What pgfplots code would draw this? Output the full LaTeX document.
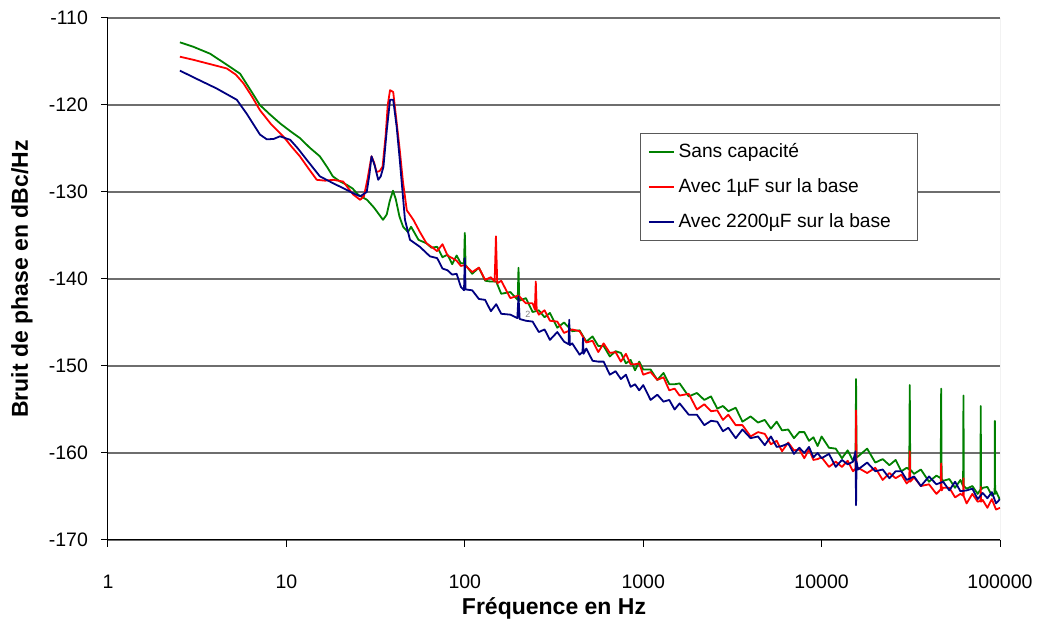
\documentclass[border=0pt]{standalone}
\usepackage{fontspec}
\setmainfont{Liberation Sans}
\usepackage{pgfplots}
\pgfplotsset{compat=1.18}
\definecolor{xlgreen}{RGB}{0,128,0}
\definecolor{xlred}{RGB}{255,0,0}
\definecolor{xlblue}{RGB}{0,0,128}
\definecolor{gridgray}{RGB}{110,110,110}
\definecolor{framegray}{RGB}{150,150,150}
\begin{document}
\begin{tikzpicture}
\begin{axis}[
  scale only axis, width=446pt, height=261pt,
  xmode=log, xmin=1, xmax=100000, ymin=-170, ymax=-110,
  xtick={1,10,100,1000,10000,100000},
  xticklabels={1,10,100,1000,10000,100000},
  ytick={-170,-160,-150,-140,-130,-120,-110},
  yticklabels={-170,-160,-150,-140,-130,-120,-110},
  xminorticks=false, yminorticks=false,
  axis x line*=bottom, axis y line*=left,
  tick align=outside, major tick length=3.5pt,
  tick style={black, line width=0.5pt},
  axis line style={black, line width=0.5pt},
  ymajorgrids, grid style={gridgray, line width=0.6pt},
  /pgf/number format/assume math mode=true,
  ticklabel style={font=\fontsize{9.75pt}{11pt}\selectfont},
  xticklabel style={anchor=base, yshift=-21pt},
  yticklabel style={anchor=east, xshift=-3pt},
  xlabel={\bfseries Fréquence en Hz},
  ylabel={\bfseries Bruit de phase en dBc/Hz},
  every axis x label/.style={at={(axis description cs:0.5,-0.1303)}, anchor=center, font=\fontsize{11.5pt}{13pt}\selectfont},
  every axis y label/.style={at={(axis description cs:-0.0964,0.5)}, anchor=center, rotate=90, font=\fontsize{11.5pt}{13pt}\selectfont},
  legend style={at={(0.596,0.78)}, anchor=north west, draw=gray!70!black, fill=white,
    font=\fontsize{9.6pt}{11pt}\selectfont, row sep=5.1pt, inner xsep=4pt, inner ysep=3pt},
  legend cell align=left,
  legend image code/.code={\draw[#1] (0pt,0pt) -- (12.5pt,0pt);},
  legend image post style={line width=0.75pt},
  every axis plot/.append style={line width=0.9pt, line join=round},
]
\addplot[xlgreen] coordinates {
(2.53,-112.8) (3.0,-113.3) (3.73,-114.1) (4.5,-115.2) (5.5,-116.4) (6.3,-118.3) (7.1,-120.0) (8.1,-121.1) (9.2,-122.1) (10.5,-123.0) (11.9,-123.8) (13.5,-124.9) (15.4,-125.9) (17,-127.2) (18.2,-128.2) (20,-128.8) (21.9,-129.2) (23.5,-129.6) (25.2,-130.3) (28.3,-130.9) (31,-131.8) (34.8,-133.2) (36.5,-132.6) (38,-131.0) (39.6,-129.85) (41,-130.8) (43,-132.8) (45.1,-134.0) (48,-134.6) (50,-134.0) (55,-135.5) (61,-135.9) (65,-136.4)
(70,-136.3) (75,-137.5) (80,-137.2) (85,-138.3) (90,-137.3) (95,-138.2) (99,-138.2) (100,-134.7) (101,-138.4) (110,-139.4) (120,-138.7) (130,-140.2) (140,-140.3) (150,-140.3) (160,-141.7) (180,-141.5) (198,-142.4) (200,-138.7) (202,-142.5) (220,-142.2) (240,-143.8) (260,-143.6) (280,-144.4) (300,-143.9) (330,-145.6) (360,-145.0) (400,-146.0) (440,-145.9) (480,-147.2) (520,-146.6) (560,-147.7) (600,-147.7) (650,-148.9) (700,-148.3) (750,-148.5) (800,-149.7) (850,-149.3) (900,-150.5) (950,-149.5)
(1000,-150.4) (1100,-150.4) (1200,-151.6) (1300,-150.8) (1400,-152.1) (1500,-152.1) (1600,-152.0) (1800,-153.5) (2000,-153.1) (2200,-153.9) (2400,-153.5) (2600,-154.9) (2800,-154.6) (3000,-155.2) (3300,-154.8) (3600,-156.4) (4000,-155.8) (4400,-156.5) (4800,-156.2) (5200,-157.2) (5600,-156.4) (6000,-157.4) (6500,-157.3) (7000,-158.3) (7500,-157.6) (8000,-157.6) (8500,-158.6) (9000,-158.2) (9500,-159.2)
(10000,-158.1) (11000,-159.4) (12000,-159.5) (13000,-160.6) (14000,-159.7) (15000,-160.9) (15500,-160.6) (15600,-151.5) (15700,-160.5) (16000,-160.4) (18000,-159.5) (20000,-161.1) (22000,-160.7) (24000,-161.4) (26000,-160.8) (28000,-162.1) (30000,-161.7) (31000,-161.9) (31200,-152.2) (31400,-161.9) (33000,-162.4) (36000,-161.9) (40000,-163.3) (44000,-162.6) (46500,-162.9) (46800,-152.6) (47100,-163.0) (48000,-163.2) (52000,-163.0) (56000,-164.0) (60000,-163.1) (62100,-163.8) (62400,-153.4) (62700,-163.8) (65000,-164.1) (70000,-163.8) (75000,-164.7) (77700,-164.2) (78000,-154.6) (78300,-164.2) (80000,-164.0) (85000,-163.9) (90000,-164.9) (93300,-164.6) (93600,-156.3) (93900,-164.7) (95000,-164.4) (100000,-165.4)
};
\addlegendentry{Sans capacité}
\addplot[xlred] coordinates {
(2.53,-114.45) (3.0,-114.8) (3.73,-115.3) (4.63,-115.8) (5.2,-116.5) (5.74,-117.5) (6.4,-119.0) (7.11,-120.6) (8.2,-122.2) (9.6,-123.6) (10.7,-124.8) (11.9,-125.9) (13.3,-127.3) (14.8,-128.6) (16.5,-128.7) (18.3,-128.6) (20.8,-128.8) (22.3,-129.6) (23.7,-130.3) (25.9,-130.9) (27.2,-130.5) (28.5,-128.5) (30,-125.9) (31,-126.6) (32,-127.7) (33.3,-127.6) (34.6,-127.1) (36,-123.5) (37,-120.0) (38.1,-118.3) (39.7,-118.5) (40.7,-120.5) (41.5,-122.0) (43.2,-125.2) (45,-128.8) (47.3,-132.1) (51.5,-133.2) (56,-134.6) (61,-135.9) (66,-136.4)
(70,-136.8) (75,-136.0) (80,-137.3) (85,-137.6) (90,-137.9) (95,-138.5) (100,-138.4) (110,-139.2) (120,-138.7) (130,-140.1) (140,-139.8) (147,-140.3) (149.5,-135.1) (152,-140.5) (160,-140.2) (180,-142.2) (200,-141.9) (220,-142.8) (240,-142.8) (247,-143.5) (250,-140.3) (253,-143.6) (260,-144.1) (280,-143.6) (300,-144.8) (330,-144.9) (360,-146.2) (400,-145.8) (440,-146.0) (480,-147.3) (520,-147.1) (560,-148.4) (600,-147.4) (650,-148.5) (700,-148.4) (750,-149.5) (800,-148.6) (850,-149.8) (900,-149.8) (950,-149.7)
(1000,-151.0) (1100,-150.7) (1200,-151.6) (1300,-151.3) (1400,-152.8) (1500,-152.6) (1600,-153.4) (1800,-153.2) (2000,-155.0) (2200,-154.4) (2400,-155.2) (2600,-155.1) (2800,-156.2) (3000,-155.6) (3300,-156.8) (3600,-156.8) (4000,-158.1) (4400,-157.6) (4800,-157.8) (5200,-159.0) (5600,-158.6) (6000,-159.8) (6500,-158.8) (7000,-159.7) (7500,-159.6) (8000,-160.6) (8500,-159.6) (9000,-160.8) (9500,-160.7)
(10000,-160.5) (11000,-161.6) (12000,-161.0) (13000,-161.6) (14000,-160.9) (15000,-162.1) (15500,-161.8) (15600,-155.1) (15700,-161.7) (16000,-161.7) (18000,-162.3) (20000,-161.7) (22000,-163.1) (24000,-162.3) (26000,-162.9) (28000,-162.5) (30000,-163.5) (31000,-163.2) (31200,-159.8) (31400,-163.3) (33000,-162.8) (36000,-163.8) (40000,-163.6) (44000,-164.7) (46500,-164.2) (46800,-161.2) (47100,-164.3) (48000,-164.0) (52000,-164.0) (56000,-165.1) (60000,-164.7) (62100,-164.9) (62400,-162.9) (62700,-165.0) (65000,-165.8) (70000,-164.7) (75000,-165.6) (77700,-165.5) (78000,-163.9) (78300,-165.6) (80000,-165.4) (85000,-166.3) (90000,-165.3) (95000,-166.5) (100000,-166.3)
};
\addlegendentry{Avec 1µF sur la base}
\addplot[xlblue] coordinates {
(2.53,-116.05) (3.0,-116.8) (4.06,-118.1) (5.27,-119.4) (5.99,-121.0) (7.11,-123.4) (7.77,-123.95) (8.5,-123.9) (9.2,-123.6) (10.5,-124.0) (11.6,-125.0) (13,-126.3) (15.4,-128.2) (18.3,-129.0) (21,-129.6) (23.7,-130.15) (25.9,-130.5) (28.2,-130.0) (29.2,-128.0) (30,-125.9) (31.3,-127.0) (32.7,-128.6) (33.8,-128.2) (35,-127.1) (36.5,-123.0) (38.1,-119.4) (39.7,-119.4) (41.5,-122.5) (43.2,-126.3) (46.2,-133.2) (49.3,-135.5) (56,-136.3) (63.8,-137.4)
(70,-137.6) (75,-138.8) (80,-139.0) (85,-139.5) (90,-139.4) (95,-140.9) (99,-141.3) (100,-137.6) (101,-141.2) (110,-141.3) (120,-142.3) (130,-142.4) (140,-143.7) (150,-142.9) (160,-144.0) (180,-144.1) (197,-144.5) (200,-142.0) (203,-144.6) (220,-144.8) (240,-144.9) (260,-146.1) (280,-145.8) (300,-147.0) (330,-146.1) (360,-147.2) (382,-147.5) (385,-144.7) (388,-147.6) (400,-147.4) (440,-148.7) (457,-148.4) (460,-146.8) (463,-148.6) (480,-148.0) (520,-149.4) (560,-149.5) (600,-149.5) (650,-151.0) (700,-150.6) (750,-151.5) (800,-151.0) (850,-152.4) (900,-152.1) (950,-152.8)
(1000,-152.2) (1100,-153.9) (1200,-153.3) (1300,-154.1) (1400,-153.9) (1500,-155.0) (1600,-154.3) (1800,-155.6) (2000,-155.6) (2200,-156.8) (2400,-156.3) (2600,-156.4) (2800,-157.5) (3000,-157.1) (3300,-158.3) (3600,-157.3) (4000,-158.3) (4400,-158.1) (4800,-159.1) (5200,-158.1) (5600,-159.3) (6000,-159.2) (6500,-158.9) (7000,-160.1) (7500,-159.4) (8000,-160.0) (8500,-159.3) (9000,-160.5) (9500,-160.0)
(10000,-160.6) (11000,-160.1) (12000,-161.6) (13000,-160.8) (14000,-161.3) (15000,-161.0) (15500,-159.8) (15600,-166.0) (15700,-161.0) (16000,-161.9) (18000,-161.1) (20000,-162.1) (22000,-161.9) (24000,-162.9) (26000,-162.1) (28000,-162.1) (30000,-163.1) (33000,-162.7) (36000,-163.8) (40000,-162.7) (44000,-163.6) (48000,-163.3) (52000,-164.3) (56000,-163.3) (60000,-164.4) (65000,-164.3) (70000,-164.1) (75000,-165.3) (80000,-164.6) (85000,-165.2) (90000,-164.5) (95000,-165.8) (100000,-165.3)
};
\addlegendentry{Avec 2200µF sur la base\hspace*{7pt}}
\draw[framegray, line width=0.5pt] (rel axis cs:1,0) -- (rel axis cs:1,1);
\node[font=\fontsize{4.5pt}{5pt}\selectfont, text=gray] at (axis cs:226,-144.1) {2};
\end{axis}
\pgfresetboundingbox
\path ([shift={(-54pt,-41.5pt)}]current axis.south west) rectangle ([shift={(20pt,9pt)}]current axis.north east);
\end{tikzpicture}
\end{document}
